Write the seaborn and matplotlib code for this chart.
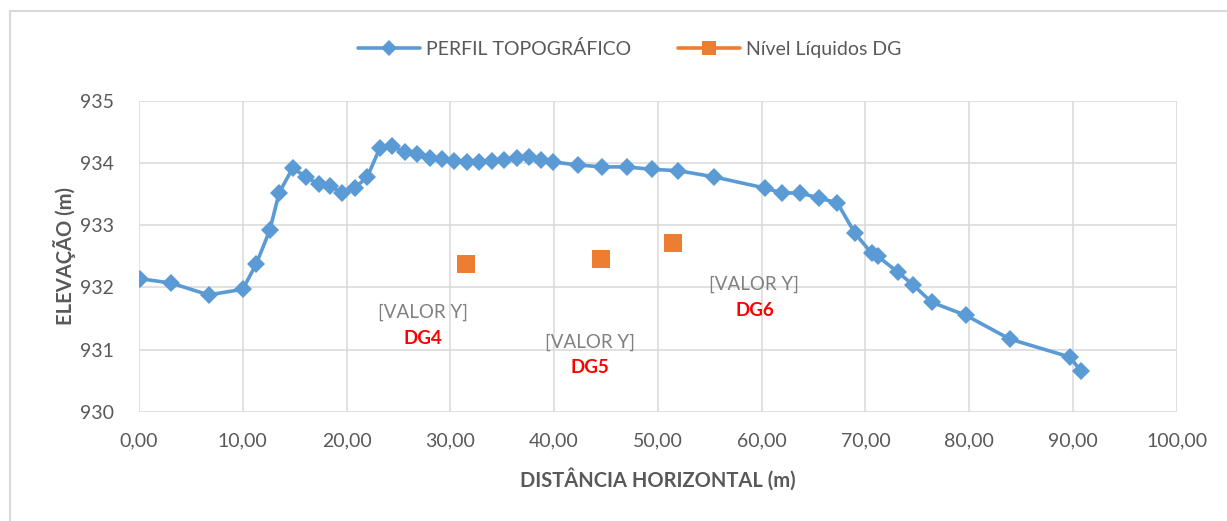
import matplotlib
matplotlib.use("Agg")
import matplotlib.pyplot as plt
from matplotlib.lines import Line2D
from matplotlib.ticker import FuncFormatter, MultipleLocator
import seaborn as sns
import pandas as pd

# ==== DATA ===================================================================
dist = [0.1, 3.1, 6.7, 10.0, 11.3, 12.6, 13.5, 14.8, 16.1, 17.3, 18.4, 19.6,
        20.8, 22.0, 23.2, 24.4, 25.6, 26.8, 28.0, 29.2, 30.4, 31.6, 32.8,
        34.0, 35.2, 36.4, 37.6, 38.7, 39.9, 42.3, 44.6, 47.0, 49.4, 51.9,
        55.4, 60.3, 62.0, 63.7, 65.5, 67.3, 69.0, 70.6, 71.2, 73.1, 74.6,
        76.4, 79.7, 83.9, 89.7, 90.8]
elev = [932.14, 932.07, 931.88, 931.97, 932.38, 932.92, 933.52, 933.92,
        933.78, 933.66, 933.63, 933.52, 933.60, 933.78, 934.24, 934.27,
        934.18, 934.15, 934.08, 934.07, 934.03, 934.02, 934.02, 934.03,
        934.05, 934.08, 934.10, 934.05, 934.02, 933.97, 933.94, 933.94,
        933.90, 933.88, 933.78, 933.60, 933.52, 933.52, 933.44, 933.36,
        932.87, 932.55, 932.50, 932.25, 932.04, 931.76, 931.55, 931.17,
        930.88, 930.65]

dg_names = ["DG4", "DG5", "DG6"]
dg_dist = [31.5, 44.5, 51.5]
dg_level = [932.37, 932.46, 932.71]

# label offsets (pixels) for the data labels
dg_offsets = [(-43, -48), (-11, -83), (81, -41)]

blue = "#5b9bd5"
orange = "#ed7d31"
text_gray = "#595959"
grid_gray = "#d9d9d9"

# ==== SETTINGS ===============================================================
sns.set_style("white")
plt.rcParams['font.family'] = ['Lato', 'DejaVu Sans']

fig = plt.figure(figsize=(12.27, 5.21), dpi=100)
ax = fig.add_axes([0.1133, 0.2098, 0.959 - 0.1133, 0.8061 - 0.2098])

# ==== PLOTS ==================================================================
perfil = pd.DataFrame({"x": dist, "y": elev})
sns.lineplot(data=perfil, x="x", y="y", ax=ax, color=blue, linewidth=2.6,
             marker="D", markersize=9, markeredgewidth=0, sort=False,
             zorder=3)
nivel = pd.DataFrame({"x": dg_dist, "y": dg_level})
sns.scatterplot(data=nivel, x="x", y="y", ax=ax, color=orange, marker="s",
                s=155, linewidth=0, zorder=4)

for name, x, y, (dx, dy) in zip(dg_names, dg_dist, dg_level, dg_offsets):
    ax.annotate("[VALOR Y]", (x, y), xytext=(dx, dy),
                textcoords="offset pixels", ha="center", va="center",
                fontsize=13.5, color="#808080")
    ax.annotate(name, (x, y), xytext=(dx, dy - 26),
                textcoords="offset pixels", ha="center", va="center",
                fontsize=13.5, color="#ff0000", fontweight="bold")

# ==== AXIS ===================================================================
ax.set_xlim(0, 100)
ax.set_ylim(930, 935)
ax.xaxis.set_major_locator(MultipleLocator(10))
ax.yaxis.set_major_locator(MultipleLocator(1))
ax.xaxis.set_major_formatter(
    FuncFormatter(lambda v, p: f"{v:.2f}".replace(".", ",")))
ax.yaxis.set_major_formatter(FuncFormatter(lambda v, p: f"{v:.0f}"))
ax.grid(True, color=grid_gray, linewidth=1.1)
ax.set_axisbelow(True)
for s in ax.spines.values():
    s.set_visible(False)
ax.tick_params(axis="both", length=0, labelsize=14, labelcolor=text_gray)
ax.tick_params(axis="x", pad=15)
ax.tick_params(axis="y", pad=18)

ax.set_xlabel("DISTÂNCIA HORIZONTAL (m)", fontsize=14.5, fontweight="bold",
              color=text_gray, labelpad=13)
ax.set_ylabel("ELEVAÇÃO (m)", fontsize=14.5, fontweight="bold",
              color=text_gray, labelpad=3)

# ==== LEGEND =================================================================
handles = [Line2D([], [], color=blue, linewidth=2.6, marker="D",
                  markersize=8, markeredgewidth=0),
           Line2D([], [], color=orange, linewidth=2.6, marker="s",
                  markersize=10, markeredgewidth=0)]
fig.legend(handles, ["PERFIL TOPOGRÁFICO", "Nível Líquidos DG"],
           loc="center", bbox_to_anchor=(0.513, 0.906), ncol=2,
           frameon=False, fontsize=14, labelcolor=text_gray,
           handlelength=3.2, columnspacing=2.4, handletextpad=0.3)

# ==== BORDER =================================================================
fig.add_artist(Line2D([10 / 1227, 1], [1 - 11 / 521, 1 - 11 / 521],
                      transform=fig.transFigure, color=grid_gray, lw=1.5))
fig.add_artist(Line2D([10 / 1227, 10 / 1227], [0, 1 - 11 / 521],
                      transform=fig.transFigure, color=grid_gray, lw=1.5))

# ==== SAVE PLOT ==============================================================
fig.savefig("out.png", dpi=100)
